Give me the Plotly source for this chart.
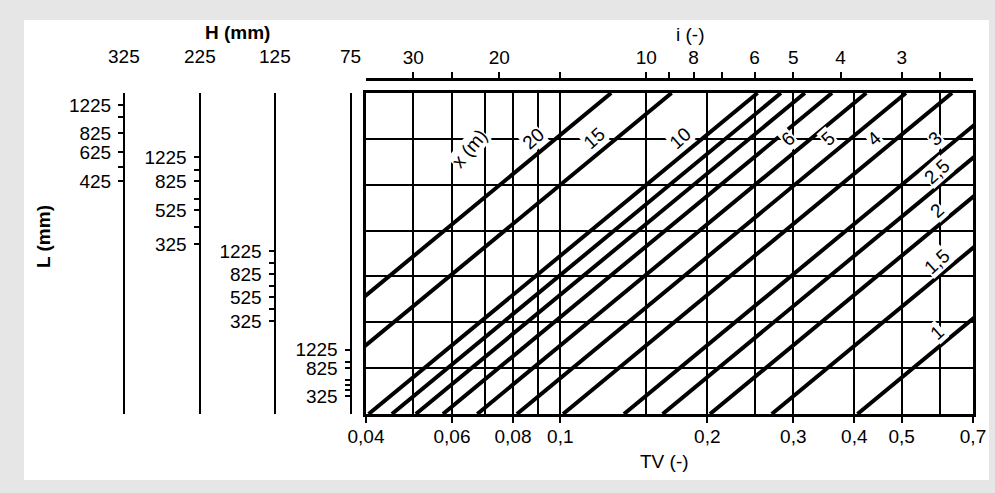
import numpy as np
import plotly.graph_objects as go

# ---------------- data ----------------
tv_tick_vals = [0.04, 0.06, 0.08, 0.1, 0.2, 0.3, 0.4, 0.5, 0.7]
tv_tick_text = ["0,04", "0,06", "0,08", "0,1", "0,2", "0,3", "0,4", "0,5", "0,7"]
tv_grid_extra = [0.05, 0.07, 0.09, 0.15, 0.25, 0.6]
tv_range = [0.04, 0.7]

i_tick_vals = [30, 20, 10, 8, 6, 5, 4, 3]
i_minor_vals = [25, 15, 9, 7, 2.5]
i_range = [37.5, 2.143]

x_line_labels = ["20", "15", "10", "", "", "", "6", "5", "4", "3", "2,5", "2", "1,5", "1"]
tv_at_bottom = [0.0203, 0.0270, 0.0405, 0.0452, 0.0506, 0.0575, 0.0676, 0.0815,
                0.1013, 0.1350, 0.1620, 0.2025, 0.2710, 0.4060]
tv_at_top = [0.1271, 0.1690, 0.2535, 0.2830, 0.3168, 0.3600, 0.4232, 0.5102,
             0.6341, 0.8451, 1.0141, 1.2677, 1.6965, 2.5416]
n_rows = 7

h_labels = ["325", "225", "125", "75"]
l_tick_rows = [
    [6.74, 6.48, 6.13, 5.71, 5.39, 5.08],
    [5.60, 5.32, 5.08, 4.69, 4.45, 4.08, 3.71],
    [3.55, 3.29, 3.05, 2.79, 2.55, 2.29, 2.03],
    [1.40, 1.13, 1.00, 0.74, 0.63, 0.52, 0.39],
]
l_tick_text = [
    ["1225", "", "825", "625", "", "425"],
    ["1225", "", "825", "", "525", "", "325"],
    ["1225", "", "825", "", "525", "", "325"],
    ["1225", "", "825", "", "", "", "325"],
]

# ---------------- layout constants ----------------
W, H = 995, 493
FONT = "Liberation Sans, Arial, sans-serif"
FS = 19
px_left, px_right, px_top, px_bottom = 366, 973, 93, 414
scale_px = [124, 199.5, 274.5, 350.5]


def fx(px):
    return px / W


def fy(py):
    return 1 - py / H


fig = go.Figure()

for b, t in zip(tv_at_bottom, tv_at_top):
    fig.add_trace(go.Scatter(x=[b, t], y=[0, n_rows], mode="lines",
                             line=dict(color="black", width=4),
                             showlegend=False, hoverinfo="skip"))

fig.add_trace(go.Scatter(x=[10], y=[None], xaxis="x2", yaxis="y",
                         showlegend=False, hoverinfo="skip"))
for k in range(len(h_labels)):
    fig.add_trace(go.Scatter(x=[0.1], y=[None], xaxis="x", yaxis=f"y{k + 3}",
                             showlegend=False, hoverinfo="skip"))

tickfont = dict(family=FONT, size=FS, color="black")

layout = dict(
    width=W, height=H, autosize=False,
    margin=dict(l=0, r=0, t=0, b=0, pad=0, autoexpand=False),
    paper_bgcolor="#e6e6e6",
    plot_bgcolor="white",
    showlegend=False,
    font=dict(family=FONT, size=FS, color="black"),
    xaxis=dict(
        type="log", range=[np.log10(tv_range[0]), np.log10(tv_range[1])],
        domain=[fx(px_left), fx(px_right)], automargin=False,
        tickmode="array", tickvals=tv_tick_vals, ticktext=tv_tick_text,
        ticks="outside", ticklen=6, tickwidth=2, tickcolor="black",
        tickfont=tickfont, ticklabelstandoff=-3,
        showgrid=True, gridcolor="black", gridwidth=2,
        minor=dict(tickmode="array", tickvals=tv_grid_extra, ticks="",
                   showgrid=True, gridcolor="black", gridwidth=2),
        showline=True, linecolor="black", linewidth=3, mirror=True,
        zeroline=False,
    ),
    yaxis=dict(
        range=[0, n_rows], domain=[fy(px_bottom), fy(px_top)], automargin=False,
        tickmode="array", tickvals=list(range(n_rows + 1)),
        showticklabels=False, ticks="",
        showgrid=True, gridcolor="black", gridwidth=2,
        showline=True, linecolor="black", linewidth=3, mirror=True,
        zeroline=False,
    ),
    xaxis2=dict(
        type="log", overlaying="x", anchor="free", position=fy(79), side="top",
        automargin=False,
        range=[np.log10(i_range[0]), np.log10(i_range[1])],
        tickmode="array", tickvals=i_tick_vals, ticktext=[str(v) for v in i_tick_vals],
        ticks="outside", ticklen=6, tickwidth=2, tickcolor="black",
        tickfont=tickfont, ticklabelstandoff=1,
        minor=dict(tickmode="array", tickvals=i_minor_vals, ticks="outside",
                   ticklen=6, tickwidth=2, tickcolor="black", showgrid=False),
        showgrid=False, showline=True, linecolor="black", linewidth=2.5,
        zeroline=False,
    ),
)

for k in range(len(h_labels)):
    layout[f"yaxis{k + 3}"] = dict(
        overlaying="y", anchor="free", position=fx(scale_px[k]), side="left",
        automargin=False, range=[0, n_rows],
        tickmode="array", tickvals=l_tick_rows[k], ticktext=l_tick_text[k],
        ticks="outside", ticklen=5, tickwidth=2, tickcolor="black",
        tickfont=tickfont, ticklabelstandoff=3,
        showgrid=False, zeroline=False,
        showline=True, linecolor="black", linewidth=2,
    )

fig.update_layout(**layout)

fig.add_shape(type="rect", xref="paper", yref="paper",
              x0=fx(24), x1=fx(989), y0=fy(480), y1=fy(20),
              fillcolor="white", line=dict(width=0), layer="below")

annots = []
for k, lab in enumerate(h_labels):
    annots.append(dict(x=fx(scale_px[k]), y=fy(57), xref="paper", yref="paper",
                       text=lab, showarrow=False, font=tickfont,
                       xanchor="center", yanchor="middle"))
annots += [
    dict(x=fx(237), y=fy(32), text="<b>H (mm)</b>"),
    dict(x=fx(690), y=fy(34), text="i (-)"),
    dict(x=fx(664), y=fy(461), text="TV (-)"),
    dict(x=fx(43), y=fy(237), text="<b>L (mm)</b>", textangle=-90),
]
for a in annots[len(h_labels):]:
    a.update(xref="paper", yref="paper", showarrow=False, font=tickfont,
             xanchor="center", yanchor="middle")

label_row = 6
lx_edge = 0.6
first = True
for lab, b, t in zip(x_line_labels, tv_at_bottom, tv_at_top):
    lb, lt = np.log10(b), np.log10(t)
    lx6 = lb + label_row / n_rows * (lt - lb)
    if first:
        annots.append(dict(x=lx6, y=label_row, xref="x", yref="y", text="x (m)",
                           showarrow=False, font=tickfont, textangle=-50,
                           bgcolor="white", xshift=-86, yshift=-10, borderpad=0))
        first = False
    if not lab:
        continue
    if lx6 <= np.log10(tv_range[1]):
        ax, ay, xs, ys = lx6, label_row, -22, 0
    else:
        ax = np.log10(lx_edge)
        ay = n_rows * (ax - lb) / (lt - lb)
        xs, ys = -3, 13
    annots.append(dict(x=ax, y=ay, xref="x", yref="y", text=lab,
                       showarrow=False, font=tickfont, textangle=-42,
                       bgcolor="white", xshift=xs, yshift=ys, borderpad=0))

fig.update_layout(annotations=annots)

fig.write_html("out.html",
               config={"displayModeBar": False},
               post_script="document.body.style.margin='0';"
                           "document.body.style.background='#e6e6e6';")
